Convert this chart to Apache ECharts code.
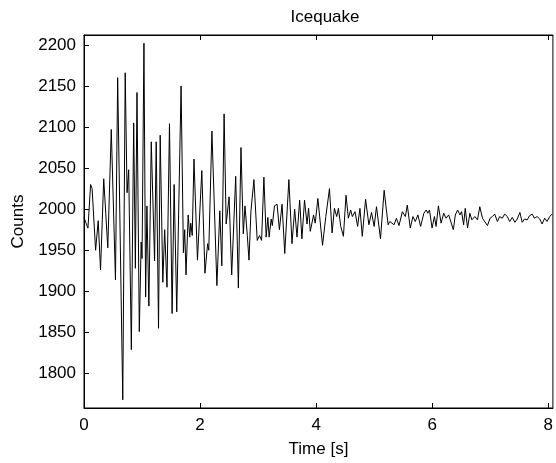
<!DOCTYPE html>
<html>
<head>
<meta charset="utf-8">
<title>Icequake</title>
<script src="https://cdn.jsdelivr.net/npm/echarts@6/dist/echarts.min.js"></script>
<style>
  html, body { margin: 0; padding: 0; background: #fff; }
  #chart { width: 556px; height: 463px; }
</style>
</head>
<body>
<div id="chart"></div>
<script>
// peaks and troughs, time in seconds
var times = [
  0.00, 0.03, 0.068, 0.114, 0.14, 0.20, 0.245, 0.285, 0.34, 0.375,
  0.41, 0.47, 0.542, 0.58, 0.668, 0.71, 0.742, 0.77, 0.816, 0.856,
  0.885, 0.913, 0.953, 0.985, 1.00, 1.033, 1.062, 1.084, 1.118, 1.159,
  1.216, 1.244, 1.284, 1.313, 1.358, 1.39, 1.43, 1.473, 1.518, 1.553,
  1.598, 1.673, 1.713, 1.735, 1.758, 1.795, 1.822, 1.84, 1.865, 1.895,
  1.955, 2.03, 2.084, 2.13, 2.15, 2.204, 2.29, 2.34, 2.375, 2.414,
  2.45, 2.50, 2.545, 2.614, 2.66, 2.705, 2.745, 2.774, 2.814, 2.843,
  2.877, 2.928, 2.985, 3.025, 3.06, 3.10, 3.139, 3.168, 3.19, 3.225,
  3.245, 3.282, 3.327, 3.367, 3.413, 3.459, 3.53, 3.584, 3.63, 3.67,
  3.716, 3.755, 3.80, 3.843, 3.87, 3.899, 3.956, 3.984, 4.03, 4.11,
  4.167, 4.23, 4.275, 4.315, 4.355, 4.384, 4.424, 4.47, 4.515, 4.555,
  4.595, 4.624, 4.67, 4.715, 4.755, 4.795, 4.852, 4.909, 4.955, 5.00,
  5.04, 5.109, 5.172, 5.24, 5.269, 5.297, 5.343, 5.383, 5.428, 5.486,
  5.537, 5.571, 5.622, 5.668, 5.708, 5.754, 5.80, 5.856, 5.896, 5.924,
  5.953, 5.998, 6.038, 6.067, 6.107, 6.153, 6.198, 6.238, 6.284, 6.364,
  6.398, 6.438, 6.478, 6.506, 6.541, 6.569, 6.609, 6.649, 6.683, 6.735,
  6.78, 6.82, 6.866, 6.952, 6.997, 7.037, 7.077, 7.123, 7.163, 7.208,
  7.248, 7.294, 7.334, 7.38, 7.425, 7.465, 7.511, 7.551, 7.591, 7.637,
  7.677, 7.722, 7.762, 7.808, 7.853, 7.893, 7.939, 7.979, 8.025, 8.065
];
var counts = [
  1990, 1984, 1977, 2030, 2025, 1950, 1986, 1926, 2037, 1995,
  1953, 2097, 1914, 2160, 1768, 2166, 2020, 2048, 1829, 2105,
  1928, 2142, 1851, 1960, 1940, 2202, 1893, 2004, 1882, 2082,
  1937, 2082, 1855, 2090, 1911, 1975, 1905, 2104, 1873, 2030,
  1875, 2150, 1947, 1975, 1920, 1993, 1966, 1983, 1968, 2061,
  1938, 2047, 1922, 1958, 1950, 2095, 1907, 1998, 1931, 2116,
  1982, 2015, 1920, 2040, 1904, 2075, 1970, 2004, 1968, 1938,
  1998, 2036, 1962, 1968, 1962, 2039, 1966, 1990, 1966, 1988,
  1980, 2004, 2006, 1975, 2006, 1946, 2036, 1958, 2000, 1966,
  2011, 1964, 2011, 1982, 2001, 1973, 1993, 1983, 2013, 1956,
  1991, 2025, 1971, 2001, 1991, 2001, 1979, 1967, 2017, 1989,
  1999, 1991, 1997, 1979, 2001, 1967, 2012, 1981, 1996, 1979,
  2003, 1964, 2023, 1981, 1985, 1985, 1981, 1989, 1980, 1997,
  1991, 2005, 1977, 1991, 1985, 1993, 1979, 1995, 1999, 1995,
  1999, 1977, 1991, 1979, 2004, 1983, 1995, 1989, 1993, 1975,
  1993, 1999, 1993, 1997, 1981, 2001, 1977, 1995, 1987, 1991,
  1987, 2003, 1989, 1980, 1989, 1991, 1994, 1985, 1991, 1989,
  1994, 1991, 1985, 1990, 1984, 1988, 1996, 1984, 1988, 1987,
  1992, 1994, 1989, 1991, 1988, 1982, 1989, 1985, 1991, 1994
];
var xTicks = [0, 2, 4, 6, 8];
var yTicks = [1800, 1850, 1900, 1950, 2000, 2050, 2100, 2150, 2200];

var font = 'Liberation Sans, Arial, Helvetica, sans-serif';
var chart = echarts.init(document.getElementById('chart'), null, { renderer: 'canvas' });

function plain(v) { return String(v); }

var option = {
  animation: false,
  backgroundColor: '#fff',
  title: {
    text: 'Icequake',
    left: 320,
    textAlign: 'center',
    top: 4,
    textStyle: { fontFamily: font, fontSize: 17, fontWeight: 'normal', color: '#000' }
  },
  grid: {
    left: 84, top: 35, width: 473, height: 378, containLabel: false,
    show: true, borderColor: '#000', borderWidth: 1, backgroundColor: 'transparent'
  },
  xAxis: [{
    type: 'value', min: 0, max: 8.08, position: 'bottom',
    name: 'Time [s]', nameLocation: 'middle', nameGap: 33,
    nameTextStyle: { fontFamily: font, fontSize: 17, color: '#000' },
    axisLine: { show: true, onZero: false, lineStyle: { color: '#000', width: 1 } },
    axisTick: { inside: true, length: 5, customValues: xTicks, lineStyle: { color: '#000' } },
    axisLabel: { customValues: xTicks, formatter: plain, margin: 9, fontFamily: font, fontSize: 17, color: '#000' },
    splitLine: { show: false }
  }, {
    type: 'value', min: 0, max: 8.08, position: 'top',
    axisLine: { show: true, onZero: false, lineStyle: { color: '#000', width: 1 } },
    axisTick: { inside: true, length: 5, customValues: xTicks, lineStyle: { color: '#000' } },
    axisLabel: { show: false },
    splitLine: { show: false }
  }],
  yAxis: [{
    type: 'value', min: 1758, max: 2212, position: 'left',
    name: 'Counts', nameLocation: 'middle', nameGap: 56, nameRotate: 90,
    nameTextStyle: { fontFamily: font, fontSize: 17, color: '#000' },
    axisLine: { show: true, onZero: false, lineStyle: { color: '#000', width: 1 } },
    axisTick: { inside: true, length: 5, customValues: yTicks, lineStyle: { color: '#000' } },
    axisLabel: { customValues: yTicks, formatter: plain, margin: 8, fontFamily: font, fontSize: 17, color: '#000' },
    splitLine: { show: false }
  }],
  series: [{
    type: 'line',
    xAxisIndex: 0,
    yAxisIndex: 0,
    showSymbol: false,
    lineStyle: { color: '#000', width: 1 },
    data: times.map(function (t, i) { return [t, counts[i]]; })
  }]
};
chart.setOption(option);
</script>
</body>
</html>
